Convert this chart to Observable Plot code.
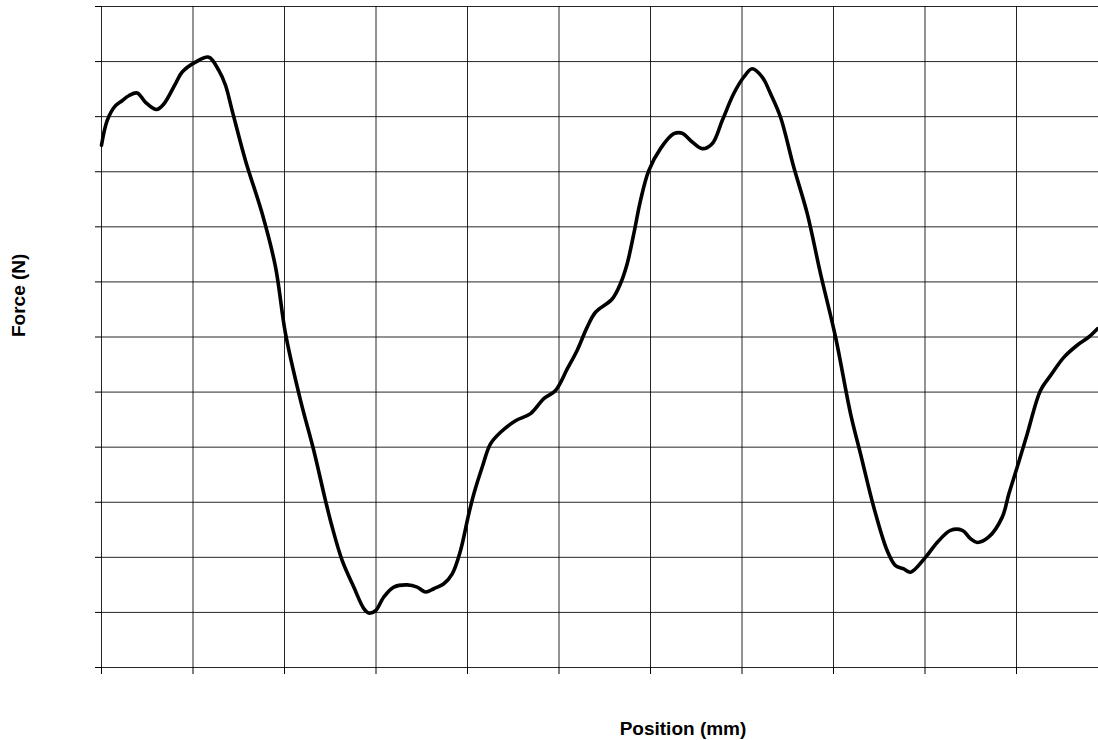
<!DOCTYPE html>
<html>
<head>
<meta charset="utf-8">
<script src="https://cdn.jsdelivr.net/npm/d3@7"></script>
<script src="https://cdn.jsdelivr.net/npm/@observablehq/plot@0.6"></script>
<style>
  html, body { margin: 0; padding: 0; background: #fff; }
</style>
</head>
<body>
<div id="chart"></div>
<script>
// Position (grid units) and force (grid units)
const position = [0.000,0.062,0.153,0.226,0.298,0.390,0.481,0.601,0.681,0.809,0.882,1.027,1.173,1.282,1.355,1.428,1.574,1.756,1.902,2.011,2.175,2.320,2.448,2.521,2.631,2.757,2.867,2.921,2.995,3.085,3.195,3.341,3.450,3.541,3.632,3.741,3.833,3.923,4.014,4.069,4.161,4.251,4.361,4.525,4.689,4.834,4.962,5.090,5.199,5.308,5.399,5.581,5.672,5.745,5.817,5.891,5.981,6.109,6.255,6.346,6.456,6.565,6.674,6.784,6.910,7.020,7.111,7.221,7.311,7.421,7.566,7.713,7.858,8.022,8.186,8.295,8.440,8.587,8.678,8.768,8.842,9.005,9.133,9.279,9.407,9.497,9.570,9.697,9.844,9.916,10.008,10.117,10.262,10.372,10.517,10.663,10.790,10.885];
const force = [9.48,9.93,10.20,10.29,10.38,10.43,10.26,10.13,10.23,10.60,10.81,10.99,11.08,10.84,10.57,10.11,9.20,8.24,7.27,6.06,4.85,3.94,3.03,2.55,1.94,1.46,1.07,0.99,1.03,1.28,1.46,1.50,1.46,1.37,1.43,1.52,1.70,2.12,2.79,3.15,3.64,4.06,4.27,4.48,4.61,4.88,5.03,5.42,5.76,6.18,6.45,6.69,6.97,7.33,7.87,8.48,9.02,9.42,9.69,9.70,9.54,9.42,9.51,9.93,10.42,10.72,10.87,10.72,10.42,9.99,9.08,8.24,7.15,6.00,4.61,3.88,2.91,2.12,1.85,1.79,1.73,2.00,2.27,2.49,2.49,2.34,2.27,2.37,2.73,3.15,3.64,4.24,5.03,5.30,5.63,5.85,6.00,6.15];
const xTicks = [0,1,2,3,4,5,6,7,8,9,10];
const yTicks = [0,1,2,3,4,5,6,7,8,9,10,11,12];
const xLabel = "Position (mm)";
const yLabel = "Force (N)";

const data = position.map((p, i) => ({position: p, force: force[i]}));

const chart = Plot.plot({
  width: 1098,
  height: 740,
  marginLeft: 101,
  marginRight: 0,
  marginTop: 6,
  marginBottom: 73,
  style: {fontFamily: "'Liberation Sans', Arial, sans-serif", background: "#fff"},
  x: {domain: [0, 10.896], axis: null},
  y: {domain: [0, 12], axis: null},
  marks: [
    Plot.ruleX(xTicks, {x: d => d, stroke: "#000", strokeOpacity: 0.85, strokeWidth: 1}),
    Plot.ruleY(yTicks, {y: d => d, stroke: "#000", strokeOpacity: 0.85, strokeWidth: 1}),
    Plot.axisX(xTicks, {tickSize: 7, tickFormat: () => "", label: null, stroke: "#000"}),
    Plot.axisY(yTicks, {tickSize: 6, tickFormat: () => "", label: null, stroke: "#000"}),
    Plot.line(data, {x: "position", y: "force", stroke: "#000", strokeWidth: 3.6, curve: "catmull-rom", strokeLinejoin: "round"}),
    Plot.text([xLabel], {frameAnchor: "bottom", dx: 83, dy: 61, text: d => d, fontSize: 19, fontWeight: "bold", fill: "#000", lineAnchor: "middle"}),
    Plot.text([yLabel], {frameAnchor: "left", dx: -82.5, text: d => d, rotate: -90, fontSize: 19, fontWeight: "bold", fill: "#000", lineAnchor: "middle"})
  ]
});
document.getElementById("chart").appendChild(chart);
</script>
</body>
</html>
